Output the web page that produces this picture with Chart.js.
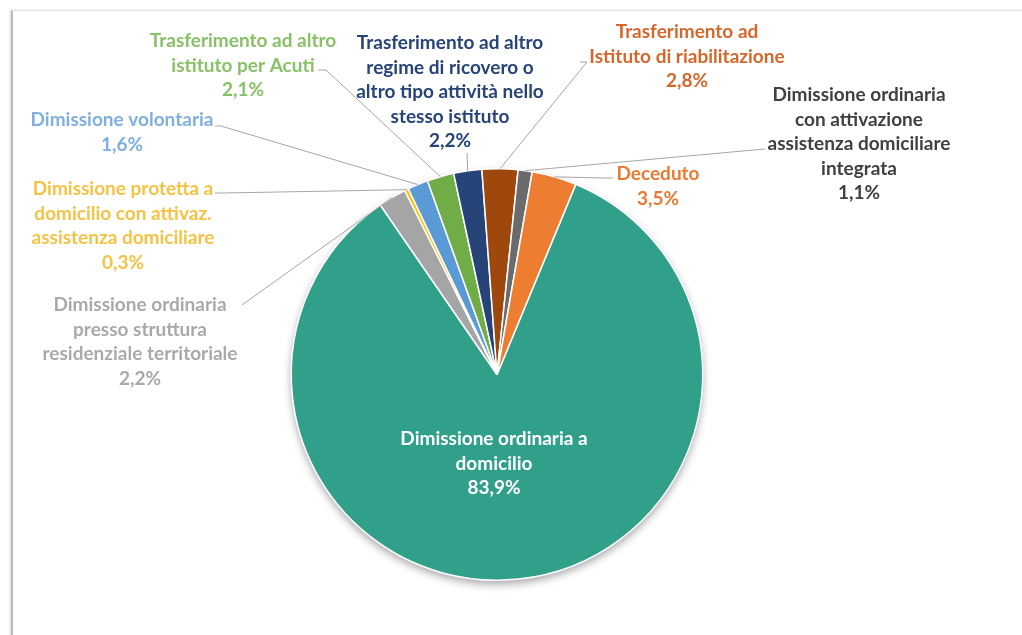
<!DOCTYPE html>
<html>
<head>
<meta charset="utf-8">
<script src="https://cdn.jsdelivr.net/npm/chart.js@4.4.1/dist/chart.umd.min.js"></script>
<style>
  html, body { margin: 0; padding: 0; background: #fff; overflow: hidden; }
  #wrap { position: relative; width: 1022px; height: 635px; }
  #frame {
    position: absolute; left: 11px; top: 10px; width: 1040px; height: 660px;
    border-left: 2px solid #bcbcbc; border-top: 1px solid #e4e4e4;
    box-shadow: -1px 0 2px rgba(0,0,0,0.15);
  }
  canvas { position: absolute; left: 0; top: 0; }
</style>
</head>
<body>
<div id="wrap">
  <div id="frame"></div>
  <canvas id="myChart" width="1022" height="635"></canvas>
</div>
<script>
// Categories (label lines) and values, clockwise starting from the big slice
var categories = [
    ["Dimissione ordinaria a", "domicilio"],
    ["Dimissione ordinaria", "presso struttura", "residenziale territoriale"],
    ["Dimissione protetta a", "domicilio con attivaz.", "assistenza domiciliare"],
    ["Dimissione volontaria"],
    ["Trasferimento ad altro", "istituto per Acuti"],
    ["Trasferimento ad altro", "regime di ricovero o", "altro tipo attività nello", "stesso istituto"],
    ["Trasferimento ad", "Istituto di riabilitazione"],
    ["Dimissione ordinaria", "con attivazione", "assistenza domiciliare", "integrata"],
    ["Deceduto"]
];
var values = [83.9, 2.2, 0.3, 1.6, 2.1, 2.2, 2.8, 1.1, 3.5];

var sliceColors = ["#31a08a", "#a5a5a5", "#ffc000", "#5b9bd5", "#70ad47", "#264478", "#9e480e", "#6b6b6b", "#ed7d31"];
var textColors = ["#ffffff", "#a9a9a9", "#f5c244", "#7fb0e0", "#88c166", "#264478", "#d6672b", "#404040", "#ea7a33"];

// Label layout: text centre x, first line y, and leader line points (anchor near text, elbow)
var labelLayout = [
    { x: 494, y: 439 },
    { x: 140, y: 305, anchor: [242, 305] },
    { x: 123, y: 189, anchor: [215, 193], elbow: [223, 193] },
    { x: 122, y: 120, anchor: [215, 126], elbow: [221, 126] },
    { x: 243, y: 41, anchor: [318, 70], elbow: [326, 70] },
    { x: 450, y: 43, anchor: [467, 153] },
    { x: 687, y: 32, anchor: [580, 62], elbow: [587, 62] },
    { x: 859, y: 95, anchor: [765, 149] },
    { x: 658, y: 174, anchor: [613, 178], elbow: [605, 178] }
];

function pct(v) {
    return v.toFixed(1).replace(".", ",") + "%";
}

// Soft shadow under the pie
var pieShadow = {
    id: "pieShadow",
    beforeDatasetsDraw: function (chart) {
        var arc = chart.getDatasetMeta(0).data[0];
        var ctx = chart.ctx;
        ctx.save();
        ctx.beginPath();
        ctx.arc(arc.x, arc.y, arc.outerRadius, 0, Math.PI * 2);
        ctx.fillStyle = "#31a08a";
        ctx.shadowColor = "rgba(0,0,0,0.35)";
        ctx.shadowBlur = 9;
        ctx.shadowOffsetY = 4;
        ctx.fill();
        ctx.restore();
    }
};

// Data labels with leader lines
var pieLabels = {
    id: "pieLabels",
    afterDatasetsDraw: function (chart) {
        var ctx = chart.ctx;
        var arcs = chart.getDatasetMeta(0).data;
        ctx.save();
        ctx.font = "bold 19px Lato";
        ctx.textAlign = "center";
        ctx.textBaseline = "middle";
        for (var i = 0; i < arcs.length; i++) {
            var a = arcs[i];
            var lay = labelLayout[i];
            if (lay.anchor) {
                var mid = (a.startAngle + a.endAngle) / 2;
                var px = a.x + Math.cos(mid) * a.outerRadius;
                var py = a.y + Math.sin(mid) * a.outerRadius;
                ctx.beginPath();
                ctx.moveTo(lay.anchor[0], lay.anchor[1]);
                if (lay.elbow) ctx.lineTo(lay.elbow[0], lay.elbow[1]);
                ctx.lineTo(px, py);
                ctx.strokeStyle = "#a6a6a6";
                ctx.lineWidth = 1;
                ctx.stroke();
            }
            var lines = categories[i].concat([pct(values[i])]);
            ctx.fillStyle = textColors[i];
            for (var j = 0; j < lines.length; j++) {
                ctx.fillText(lines[j], lay.x, lay.y + j * 24.5);
            }
        }
        ctx.restore();
    }
};

var ctx1 = document.getElementById("myChart").getContext("2d");

var myChart = new Chart(ctx1, {
    type: "pie",
    data: {
        labels: categories.map(function (c) { return c.join(" "); }),
        datasets: [
            {
                data: values,
                backgroundColor: sliceColors,
                borderColor: "#ffffff",
                borderWidth: 1.5,
            },
        ],
    },
    options: {
        responsive: false,
        animation: false,
        rotation: 22.5,
        layout: {
            padding: { top: 168, bottom: 54, left: 100, right: 128 },
        },
        plugins: {
            legend: { display: false },
            tooltip: { enabled: false },
        },
    },
    plugins: [pieShadow, pieLabels],
});
</script>
</body>
</html>
